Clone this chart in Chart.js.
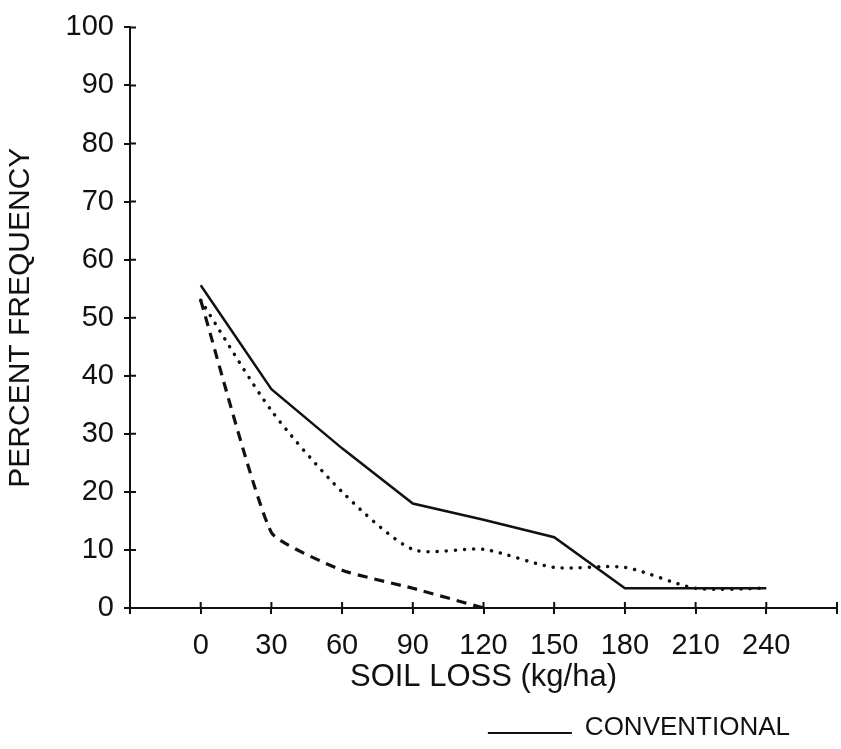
<!DOCTYPE html>
<html>
<head>
<meta charset="utf-8">
<script src="https://cdn.jsdelivr.net/npm/chart.js@4.4.1/dist/chart.umd.min.js"></script>
<style>
  html, body { margin: 0; padding: 0; background: #ffffff; }
  #wrap { width: 841px; height: 749px; }
</style>
</head>
<body>
<div id="wrap"><canvas id="c" width="841" height="749"></canvas></div>
<script>
// ---- data ----
const soilLoss = [0, 30, 60, 90, 120, 150, 180, 210, 240];
const conventional = [55.6, 37.7, 27.5, 18.0, 15.2, 12.2, 3.4, 3.4, 3.4];
const dottedValues = [53.0, 34.0, 20.0, 10.1, 10.1, 7.0, 7.0, 3.4, 3.4];
const dashedValues = [53.0, 13.0, 6.5, 3.4, 0.0];
const yTickValues = [0, 10, 20, 30, 40, 50, 60, 70, 80, 90, 100];
const xTickValues = [-30, 0, 30, 60, 90, 120, 150, 180, 210, 240, 270];
const xTickLabels = ['0', '30', '60', '90', '120', '150', '180', '210', '240'];
const seriesNames = ['CONVENTIONAL', 'Series 2', 'Series 3'];
const yTitle = 'PERCENT FREQUENCY';
const xTitle = 'SOIL LOSS (kg/ha)';

const INK = '#111111';
const FONT = "'Liberation Sans', Arial, Helvetica, sans-serif";

function toPoints(xs, ys) { return ys.map((v, i) => ({ x: xs[i], y: v })); }

// inner halves of the cross-shaped tick marks
const crossTicks = {
  id: 'crossTicks',
  afterDraw(chart) {
    const ctx = chart.ctx;
    const xs = chart.scales.x, ys = chart.scales.y;
    const len = 6;
    ctx.save();
    ctx.strokeStyle = INK;
    ctx.lineWidth = 2;
    ctx.beginPath();
    xs.ticks.forEach(t => {
      const px = xs.getPixelForValue(t.value);
      ctx.moveTo(px, xs.top);
      ctx.lineTo(px, xs.top - len);
    });
    ys.ticks.forEach(t => {
      const py = ys.getPixelForValue(t.value);
      ctx.moveTo(ys.right, py);
      ctx.lineTo(ys.right + len, py);
    });
    ctx.stroke();
    ctx.restore();
  }
};

// legend entry drawn in the style of the reference ("____ CONVENTIONAL")
const bottomLegend = {
  id: 'bottomLegend',
  afterDraw(chart) {
    const ctx = chart.ctx;
    const ds = chart.data.datasets[0];
    const textRight = 790;
    ctx.save();
    ctx.font = '26px ' + FONT;
    const w = ctx.measureText(ds.label).width;
    const textLeft = textRight - w;
    ctx.strokeStyle = ds.borderColor;
    ctx.lineWidth = 2;
    ctx.beginPath();
    ctx.moveTo(textLeft - 97, 733);
    ctx.lineTo(textLeft - 13, 733);
    ctx.stroke();
    ctx.fillStyle = INK;
    ctx.textBaseline = 'middle';
    ctx.textAlign = 'left';
    ctx.fillText(ds.label, textLeft, 728);
    ctx.restore();
  }
};

new Chart(document.getElementById('c'), {
  type: 'line',
  data: {
    datasets: [
      {
        label: seriesNames[0],
        data: toPoints(soilLoss, conventional),
        borderColor: INK, borderWidth: 2.5,
        pointRadius: 0, tension: 0, fill: false
      },
      {
        label: seriesNames[1],
        data: toPoints(soilLoss, dottedValues),
        borderColor: INK, borderWidth: 3.5,
        borderDash: [0.1, 9], borderCapStyle: 'round',
        pointRadius: 0, tension: 0.25, fill: false
      },
      {
        label: seriesNames[2],
        data: toPoints(soilLoss, dashedValues),
        borderColor: INK, borderWidth: 3.2,
        borderDash: [10, 7], borderCapStyle: 'butt',
        pointRadius: 0, tension: 0.15, fill: false
      }
    ]
  },
  options: {
    responsive: false,
    devicePixelRatio: 1,
    animation: false,
    layout: { padding: { left: 0, right: 4, top: 22, bottom: 0 } },
    plugins: {
      legend: { display: false },
      tooltip: { enabled: false }
    },
    scales: {
      x: {
        type: 'linear',
        min: -30, max: 270,
        afterBuildTicks: s => { s.ticks = xTickValues.map(v => ({ value: v })); },
        afterFit: s => { s.height = 141; s.paddingLeft = 0; s.paddingRight = 0; },
        ticks: {
          autoSkip: false, maxRotation: 0, padding: 15,
          color: INK, font: { family: FONT, size: 29 },
          callback: v => (xTickLabels.indexOf(String(v)) >= 0 ? String(v) : '')
        },
        grid: { display: true, drawOnChartArea: false, drawTicks: true, tickLength: 6, color: INK, lineWidth: 2 },
        border: { display: true, color: INK, width: 2 },
        title: {
          display: true, text: xTitle, color: INK,
          font: { family: FONT, size: 31 },
          padding: { top: 0, bottom: 53 }
        }
      },
      y: {
        type: 'linear',
        min: 0, max: 100,
        afterBuildTicks: s => { s.ticks = yTickValues.map(v => ({ value: v })); },
        afterFit: s => { s.width = 130; },
        ticks: {
          padding: 10, color: INK,
          font: { family: FONT, size: 29 }
        },
        grid: { display: true, drawOnChartArea: false, drawTicks: true, tickLength: 6, color: INK, lineWidth: 2 },
        border: { display: true, color: INK, width: 2 },
        title: {
          display: true, text: yTitle, color: INK,
          font: { family: FONT, size: 30 },
          padding: { top: 3, bottom: 0 }
        }
      }
    }
  },
  plugins: [crossTicks, bottomLegend]
});
</script>
</body>
</html>
